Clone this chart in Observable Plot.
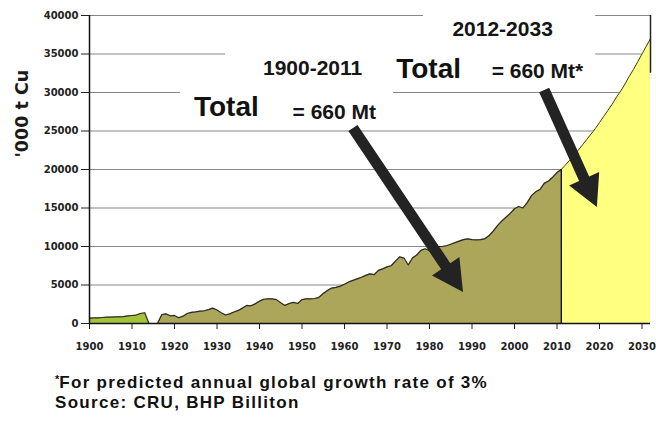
<!DOCTYPE html>
<html>
<head>
<meta charset="utf-8">
<script src="https://cdn.jsdelivr.net/npm/d3@7"></script>
<script src="https://cdn.jsdelivr.net/npm/@observablehq/plot@0.6"></script>
<style>
  body { margin: 0; background: #fff; width: 656px; height: 423px; overflow: hidden; position: relative; }
  #chart { position: absolute; left: 0; top: 0; }
  .note { position: absolute; left: 55px; font: bold 17px "Liberation Sans", Arial, sans-serif; letter-spacing: 1.3px; color: #111; white-space: nowrap; line-height: 23px; }
  .note .star { font-size: 11px; vertical-align: 5px; letter-spacing: 0; }
</style>
</head>
<body>
<div id="chart"></div>
<div class="note" style="top:368px"><span class="star">*</span>For predicted annual global growth rate of 3%</div>
<div class="note" style="top:391px">Source: CRU, BHP Billiton</div>
<script>
// World refined copper output, '000 t Cu
const histYears = d3.range(1900, 2012);
const histValues = [
  700, 720, 740, 780, 820, 840, 860, 870, 900, 980,          // 1900s
  1040, 1100, 1300, 1400, 0, 0, 0, 1150, 1250, 1000,         // 1910s
  1050, 750, 950, 1300, 1450, 1500, 1600, 1650, 1800, 2000,  // 1920s
  1750, 1400, 1100, 1250, 1500, 1700, 2000, 2350, 2300, 2550, // 1930s
  2900, 3150, 3200, 3200, 3100, 2700, 2350, 2600, 2750, 2600, // 1940s
  3100, 3200, 3200, 3250, 3400, 3900, 4300, 4600, 4700, 4850, // 1950s
  5100, 5400, 5600, 5800, 6000, 6250, 6450, 6350, 6900, 7100, // 1960s
  7350, 7500, 8100, 8650, 8500, 7600, 8500, 8900, 9500, 9700, // 1970s
  9450, 9900, 10000, 10000, 10100, 10300, 10500, 10700, 10900, 11000, // 1980s
  10900, 10850, 10900, 11000, 11400, 12000, 12700, 13300, 13800, 14300, // 1990s
  14900, 15200, 15000, 15700, 16600, 17100, 17400, 18200, 18500, 19000, // 2000s
  19600, 20000                                               // 2010-2011
];

// Projection at 3% a year
const forecastYears = d3.range(2011, 2033);
const forecastValues = [
  20000, 20600, 21200, 21850, 22500, 23200, 23900, 24600, 25300, 26100,
  26900, 27700, 28500, 29400, 30200, 31100, 32100, 33000, 34000, 35000,
  36000, 37000
];

const xTicks = d3.range(1900, 2031, 10);
const yTicks = d3.range(0, 40001, 5000);
const gridValues = yTicks.slice(1);

const hist = histYears.map((year, i) => ({year, value: histValues[i]}));
const early = hist.filter(d => d.year <= 1914);
const later = hist.filter(d => d.year >= 1916);
const forecast = forecastYears.map((year, i) => ({year, value: forecastValues[i]}));
const lastHist = hist[hist.length - 1];

// White backing panels behind the call-out text
const panels = [
  {x1: 1932.0, x2: 1978.6, y1: 33600, y2: 36800},
  {x1: 1921.4, x2: 1971.5, y1: 26100, y2: 31800},
  {x1: 1978.6, x2: 2019.1, y1: 31300, y2: 40600}
];

const labelsMid = [
  {x: 1952.5, y: 33120, text: "1900-2011"},
  {x: 1957.6, y: 27440, text: "= 660 Mt"},
  {x: 1997.2, y: 38160, text: "2012-2033"},
  {x: 2005.4, y: 32750, text: "= 660 Mt*"}
];
const labelsBig = [
  {x: 1932.2, y: 28120, text: "Total"},
  {x: 1979.8, y: 33080, text: "Total"}
];

// Call-out arrows: tail and tip
const arrows = [
  {x1: 1962.1, y1: 25320, x2: 1988.0, y2: 4030},
  {x1: 2007.1, y1: 30260, x2: 2019.5, y2: 15060}
];

const font = "Liberation Sans, Arial, sans-serif";

const chart = Plot.plot({
  width: 656,
  height: 360,
  marginLeft: 89,
  marginRight: 6,
  marginTop: 15,
  marginBottom: 37,
  style: {fontFamily: "DejaVu Sans, Verdana, sans-serif", fontWeight: "bold", fontSize: "10px", color: "#222", background: "#fff"},
  x: {domain: [1900, 2032], ticks: xTicks, tickFormat: d => String(d), tickSize: 6, tickPadding: 13, label: null},
  y: {domain: [0, 40000], ticks: yTicks, tickFormat: d => String(d), tickSize: 8, tickPadding: 3, label: null},
  marks: [
    Plot.ruleY(gridValues, {stroke: "#858585", strokeWidth: 1}),
    Plot.rect(panels, {x1: "x1", x2: "x2", y1: "y1", y2: "y2", fill: "#fff"}),
    Plot.areaY(early, {x: "year", y: "value", fill: "#a5c33a", curve: "linear"}),
    Plot.areaY(later, {x: "year", y: "value", fill: "#aba65a", curve: "linear"}),
    Plot.areaY(forecast, {x: "year", y: "value", fill: "#ffff80", curve: "linear"}),
    Plot.line(hist, {x: "year", y: "value", stroke: "#2a2a2a", strokeWidth: 1.2}),
    Plot.line(forecast, {x: "year", y: "value", stroke: "#3a3a3a", strokeWidth: 1}),
    Plot.ruleX([lastHist], {x: "year", y1: 0, y2: "value", stroke: "#111", strokeWidth: 1.5}),
    Plot.ruleX([2032], {y1: 32500, y2: 40000, stroke: "#222", strokeWidth: 1.5}),
    Plot.ruleX([1900], {stroke: "#111", strokeWidth: 1.5}),
    Plot.ruleY([0], {stroke: "#111", strokeWidth: 1.5}),
    Plot.text(["'000 t Cu"], {frameAnchor: "left", rotate: -90, dx: -67, dy: -12, fontSize: 17.5, fontWeight: "bold", fontFamily: "DejaVu Sans, Verdana, sans-serif", fill: "#1a1a1a"}),
    Plot.text(labelsMid, {x: "x", y: "y", text: "text", fontSize: 21, fontWeight: "bold", fontFamily: font, fill: "#151515"}),
    Plot.text(labelsBig, {x: "x", y: "y", text: "text", fontSize: 28, fontWeight: "bold", fontFamily: font, fill: "#111"})
  ]
});

// Filled block arrows drawn through the plot's own x/y scales
const sx = chart.scale("x"), sy = chart.scale("y");
const fx = d3.scaleLinear(sx.domain, sx.range);
const fy = d3.scaleLinear(sy.domain, sy.range);
function arrowPath(a) {
  const x0 = fx(a.x1), y0 = fy(a.y1), x1 = fx(a.x2), y1 = fy(a.y2);
  const len = Math.hypot(x1 - x0, y1 - y0);
  const ux = (x1 - x0) / len, uy = (y1 - y0) / len;
  const nx = -uy, ny = ux;
  const shaft = 5.5, head = 16.5, headLen = 31;
  const bx = x1 - ux * headLen, by = y1 - uy * headLen;
  const pts = [
    [x0 + nx * shaft, y0 + ny * shaft],
    [bx + nx * shaft, by + ny * shaft],
    [bx + nx * head, by + ny * head],
    [x1, y1],
    [bx - nx * head, by - ny * head],
    [bx - nx * shaft, by - ny * shaft],
    [x0 - nx * shaft, y0 - ny * shaft]
  ];
  return "M" + pts.map(p => p.join(",")).join("L") + "Z";
}
d3.select(chart).append("g")
  .selectAll("path")
  .data(arrows)
  .join("path")
  .attr("d", arrowPath)
  .attr("fill", "#232323");

document.getElementById("chart").appendChild(chart);
</script>
</body>
</html>
